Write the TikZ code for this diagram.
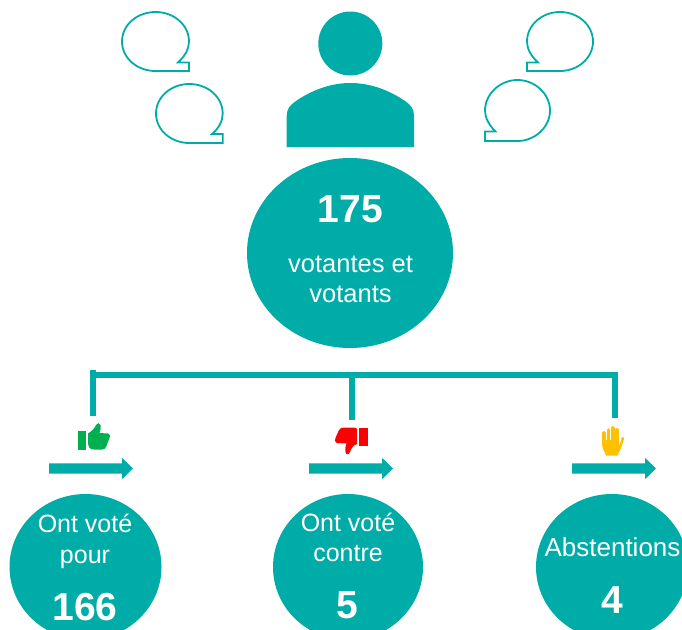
\documentclass[tikz,border=0pt]{standalone}
\usepackage{fontspec}
\setmainfont{Liberation Sans}
\definecolor{teal1}{RGB}{0,172,168}
\definecolor{upg}{RGB}{0,176,80}
\definecolor{downr}{RGB}{255,0,0}
\definecolor{handy}{RGB}{255,192,0}
\tikzset{
  disc/.style={ellipse,fill=teal1,inner sep=0pt},
  lbl/.style={text=white,font=\fontsize{25}{25}\selectfont,anchor=base,inner sep=0pt},
  lblw/.style={text=white,font=\fontsize{25.5}{25}\selectfont,anchor=base,inner sep=0pt},
  num/.style={text=white,font=\fontsize{39}{39}\selectfont\bfseries,anchor=base,inner sep=0pt},
  bubble/.style={draw=teal1,line width=1.8pt,fill=white,line join=miter},
  bar/.style={draw=teal1,line width=5.8pt},
  finger/.style={draw=handy,line width=3.6pt,line cap=round},
  pics/flecha/.style={code={\fill[teal1] (0,-5.2)--(73,-5.2)--(73,-10.7)--(84,0)--(73,10.7)--(73,5.2)--(0,5.2)--cycle;}}
}
\usetikzlibrary{shapes.geometric}
\begin{document}
\begin{tikzpicture}[x=1pt,y=-1pt]
\useasboundingbox (0,0) rectangle (682,629);
\clip (0,0) rectangle (682,629);
% bubbles
\draw[bubble] (189,71)--(189,62.5)--(178,62.5) .. controls (185,56) and (189,49) .. (189,41.5) .. controls (189,25) and (174,12) .. (155.5,12) .. controls (137,12) and (122,25) .. (122,41.5) .. controls (122,58) and (137,71) .. (155.5,71) -- cycle;
\draw[bubble] (222.7,143)--(222.7,134)--(212,134) .. controls (219,128) and (222.7,121) .. (222.7,113.5) .. controls (222.7,97) and (207.7,84) .. (189.3,84) .. controls (171,84) and (156,97) .. (156,113.5) .. controls (156,130) and (171,143) .. (189.3,143) -- cycle;
\draw[bubble] (527,71)--(527,62.5)--(538,62.5) .. controls (531,56) and (527,49) .. (527,41.5) .. controls (527,25) and (542,12) .. (560,12) .. controls (578,12) and (593,25) .. (593,41.5) .. controls (593,58) and (578,71) .. (560,71) -- cycle;
\draw[bubble] (485,141)--(485,131.5)--(495.5,131.5) .. controls (489,125) and (485,118) .. (485,110.5) .. controls (485,94) and (500,80) .. (517.5,80) .. controls (535,80) and (550,94) .. (550,110.5) .. controls (550,127) and (535,141) .. (517.5,141) -- cycle;
% person
\fill[teal1] (350.3,43.5) circle[radius=32];
\fill[teal1] (286.7,147) -- (286.7,116) .. controls (286.7,109) and (290,105) .. (296,101) .. controls (312,90) and (331,83) .. (350.3,83) .. controls (370,83) and (389,90) .. (405,101) .. controls (411,105) and (414,109) .. (414,116) -- (414,147) -- cycle;
% discs
\node[disc,minimum width=206pt,minimum height=190pt] (main) at (350,253) {};
\node[disc,minimum width=152pt,minimum height=146pt] (pour) at (85.5,567) {};
\node[disc,minimum width=150pt,minimum height=146pt] (contre) at (348,567) {};
\node[disc,minimum width=152pt,minimum height=146pt] (abst) at (612,567) {};
% texts
\node[num] (t175) at (350.5,222) {175};
\node[lblw] (t1) at (350.5,272) {votantes et};
\node[lblw] (t2) at (350.5,302) {votants};
\node[lbl] (t3) at (85,532) {Ont voté};
\node[lbl] (t4) at (85,563) {pour};
\node[num] (t166) at (85,620) {166};
\node[lbl] (t5) at (348,531) {Ont voté};
\node[lbl] (t6) at (348,561) {contre};
\node[num] (t7) at (347,618) {5};
\node[lbl,font=\fontsize{26}{26}\selectfont] (t8) at (612.5,556) {Abstentions};
\node[num] (t9) at (612,613) {4};
% connectors
\coordinate (bl) at (92.7,375);
\coordinate (br) at (617.9,375);
\coordinate (bm) at (352,375);
\coordinate (vr) at (615,375);
\coordinate (dl) at (92.7,416);
\coordinate (dm) at (352,420);
\coordinate (dr) at (615,418);
\coordinate (bl0) at (92.7,370);
\draw[bar] (bl0)--(dl);
\draw[bar] (bl)--(br);
\draw[bar] (vr)--(dr);
\draw[bar] (bm)--(dm);
% arrows
\pic at (49,468.5) {flecha};
\pic at (309,468.5) {flecha};
\pic at (572,468.5) {flecha};
% thumb up
\fill[upg] (77.5,431)--(85.5,431)--(85.5,449.5)--(77.5,449.5)--cycle;
\fill[upg] (88,433.5) .. controls (92,431) and (95,428) .. (96,425) .. controls (97,422.5) and (100,422.5) .. (100.5,425) .. controls (101,428) and (100.5,431) .. (99.5,433)--(108,433.5) .. controls (110.5,434) and (110.5,436.5) .. (109.5,438) -- (106,447) .. controls (105,449) and (104,449.5) .. (102,449.5) -- (94,449.5) .. controls (90,449.5) and (88,447) .. (88,444) -- cycle;
% thumb down
\fill[downr] (359,427.5)--(367.5,427.5)--(367.5,446)--(359,446)--cycle;
\fill[downr] (357,429) -- (357,444) .. controls (353,445) and (351,449) .. (350,452) .. controls (349,455) and (346,455) .. (345.5,452) .. controls (345,449) and (345.5,446) .. (346.5,443.5)--(337,443) .. controls (334.5,442.5) and (334.5,440) .. (335.5,438) -- (339,430) .. controls (340,428) and (342,427.5) .. (344,427.5) -- (352,427.5) .. controls (355,427.5) and (357,428) .. (357,429) -- cycle;
% hand
\draw[finger] (604,441)--(604,433);
\draw[finger] (608.4,441)--(608.4,430);
\draw[finger] (612.8,441)--(612.8,428);
\draw[finger] (617,441)--(617,430);
\fill[handy] (602.2,440) -- (618.8,440) -- (618.8,446) -- (621,441) -- (621.5,437.5) .. controls (622.5,436) and (624.5,436.5) .. (624,439) -- (621,448) .. controls (620,451) and (618,453) .. (617.5,455.5) -- (606,455.5) .. controls (605,452) and (602.2,449) .. (602.2,445) -- cycle;
\end{tikzpicture}
\end{document}
